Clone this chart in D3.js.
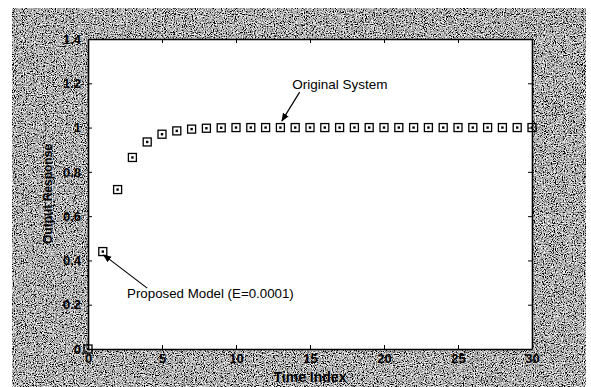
<!DOCTYPE html>
<html>
<head>
<meta charset="utf-8">
<script src="https://cdn.jsdelivr.net/npm/d3@7"></script>
<style>
  body { margin: 0; background: #fff; }
  .chart text { font-family: "Liberation Sans", Arial, sans-serif; fill: #000; }
  .axis path, .axis line { stroke: #000; }
</style>
</head>
<body>
<div class="chart" id="chart"></div>
<script>
// step response samples
const timeIndex = d3.range(0, 31);
const response = [0, 0.44, 0.72, 0.865, 0.935, 0.97, 0.985, 0.993, 0.997, 0.999,
  1, 1, 1, 1, 1, 1, 1, 1, 1, 1,
  1, 1, 1, 1, 1, 1, 1, 1, 1, 1, 1];
const xTicks = [0, 5, 10, 15, 20, 25, 30];
const yTicks = [0, 0.2, 0.4, 0.6, 0.8, 1, 1.2, 1.4];

const W = 591, H = 387;
const margin = { top: 39, right: 59, bottom: 38, left: 88 };
const width = W - margin.left - margin.right;
const height = H - margin.top - margin.bottom;

const svg = d3.select("#chart").append("svg")
  .attr("width", W).attr("height", H);

// scanned grey speckle around the plot
const defs = svg.append("defs");
const f = defs.append("filter").attr("id", "speckle")
  .attr("x", 0).attr("y", 0).attr("width", "100%").attr("height", "100%");
f.append("feTurbulence").attr("type", "fractalNoise")
  .attr("baseFrequency", "0.9").attr("numOctaves", 2).attr("seed", 7);
f.append("feColorMatrix").attr("type", "matrix")
  .attr("values", "0.33 0.33 0.33 0 0  0.33 0.33 0.33 0 0  0.33 0.33 0.33 0 0  0 0 0 0 1");
const ct = f.append("feComponentTransfer");
["feFuncR", "feFuncG", "feFuncB"].forEach(n =>
  ct.append(n).attr("type", "linear").attr("slope", 5).attr("intercept", -2.05));

defs.append("marker").attr("id", "arrow")
  .attr("viewBox", "0 0 10 10").attr("refX", 9).attr("refY", 5)
  .attr("markerWidth", 7).attr("markerHeight", 7).attr("orient", "auto")
  .append("path").attr("d", "M0,1 L10,5 L0,9 Z").attr("fill", "#000");

svg.append("rect").attr("x", 12).attr("y", 8)
  .attr("width", 574).attr("height", H - 8)
  .attr("filter", "url(#speckle)");

const g = svg.append("g")
  .attr("transform", "translate(" + margin.left + "," + margin.top + ")");

const x = d3.scaleLinear().domain([0, 30]).range([0, width]);
const y = d3.scaleLinear().domain([0, 1.4]).range([height, 0]);

g.append("rect").attr("width", width).attr("height", height).attr("fill", "#fff");

// axes, MATLAB style ticks pointing inwards on all sides
const fmtY = d => d === 0 ? "0" : d3.format("")(+d.toFixed(1));
g.append("g").attr("class", "axis")
  .attr("transform", "translate(0," + height + ")")
  .call(d3.axisBottom(x).tickValues(xTicks).tickSizeInner(-4).tickSizeOuter(0).tickPadding(5))
  .call(a => a.selectAll("text").attr("font-size", 13));
g.append("g").attr("class", "axis")
  .call(d3.axisTop(x).tickValues(xTicks).tickSizeInner(-4).tickSizeOuter(0).tickFormat(""));
g.append("g").attr("class", "axis")
  .call(d3.axisLeft(y).tickValues(yTicks).tickSizeInner(-4).tickSizeOuter(0).tickPadding(7).tickFormat(fmtY))
  .call(a => a.selectAll("text").attr("font-size", 13));
g.append("g").attr("class", "axis")
  .attr("transform", "translate(" + width + ",0)")
  .call(d3.axisRight(y).tickValues(yTicks).tickSizeInner(-4).tickSizeOuter(0).tickFormat(""));

g.selectAll(".axis path").attr("stroke-width", 1.6);
g.selectAll(".axis text").attr("font-family", "Liberation Sans, Arial, sans-serif")
  .attr("font-weight", "bold").attr("fill", "#000");

// samples: square markers with a centre dot
const pts = g.append("g").selectAll("g")
  .data(timeIndex.map((t, i) => ({ t, v: response[i] })))
  .enter().append("g")
  .attr("transform", d => "translate(" + x(d.t) + "," + y(d.v) + ")");
pts.append("rect").attr("x", -4).attr("y", -4).attr("width", 8).attr("height", 8)
  .attr("fill", "none").attr("stroke", "#000").attr("stroke-width", 1.3);
pts.append("rect").attr("x", -1.2).attr("y", -1.2).attr("width", 2.4).attr("height", 2.4)
  .attr("fill", "#000");

// annotations
g.append("text").attr("x", x(13.8)).attr("y", y(1.175))
  .attr("font-size", 13.5).text("Original System");
g.append("line")
  .attr("x1", x(14.3)).attr("y1", y(1.16)).attr("x2", x(13.1)).attr("y2", y(1.03))
  .attr("stroke", "#000").attr("stroke-width", 1.2).attr("marker-end", "url(#arrow)");

g.append("text").attr("x", x(2.64)).attr("y", y(0.232))
  .attr("font-size", 13.3).text("Proposed Model (E=0.0001)");
g.append("line")
  .attr("x1", x(4.0)).attr("y1", y(0.275)).attr("x2", x(1.05)).attr("y2", y(0.425))
  .attr("stroke", "#000").attr("stroke-width", 1.2).attr("marker-end", "url(#arrow)");

// axis titles
g.append("text").attr("x", width / 2).attr("y", height + 33)
  .attr("text-anchor", "middle").attr("font-size", 14).attr("font-weight", "bold")
  .text("Time Index");
g.append("text")
  .attr("transform", "translate(" + (-36) + "," + (height / 2) + ") rotate(-90)")
  .attr("text-anchor", "middle").attr("font-size", 12).attr("font-weight", "bold")
  .text("Output Response");
</script>
</body>
</html>
